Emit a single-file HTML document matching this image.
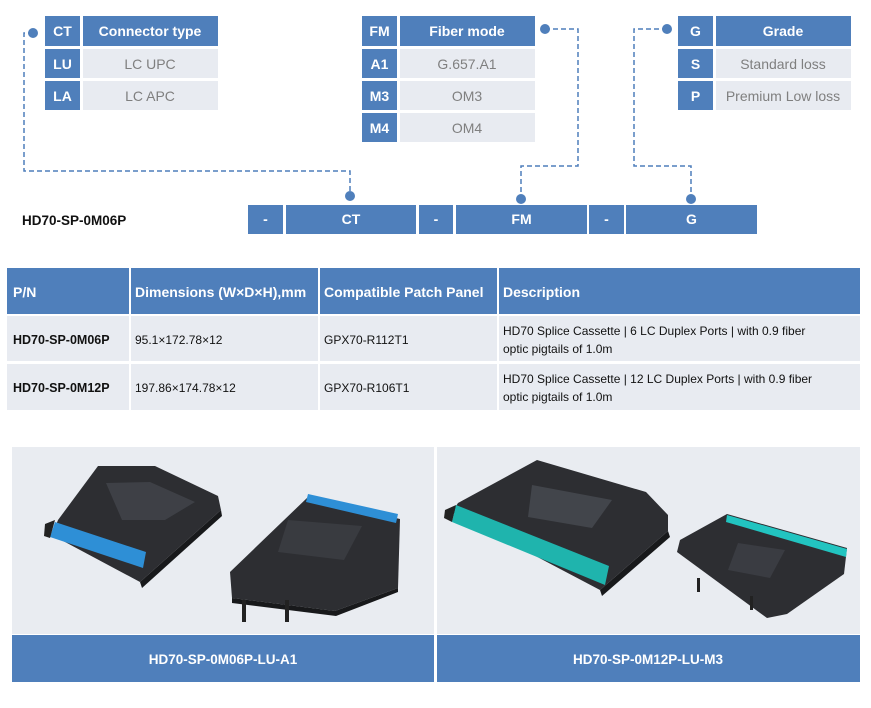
<!DOCTYPE html>
<html><head><meta charset="utf-8"><style>
html,body{margin:0;padding:0;background:#fff;width:871px;height:708px;overflow:hidden}
svg text{font-family:"Liberation Sans",sans-serif}
</style></head><body>
<svg width="871" height="708" viewBox="0 0 871 708" xmlns="http://www.w3.org/2000/svg">
<defs>
<style>
.b{fill:#4f7fbb}.g{fill:#e8ebf1}
.wh{fill:#fff;font-weight:bold;font-size:14px;text-anchor:middle}
.gt{fill:#7f7f7f;font-size:14px;text-anchor:middle}
.d{stroke:#4f7fbb;stroke-width:1.5;stroke-dasharray:5,3;fill:none}
.th{fill:#fff;font-weight:bold;font-size:14px}
.td{fill:#111;font-size:12px}
.tb{fill:#111;font-size:12.5px;font-weight:bold}
</style>
</defs>
<!-- CT table -->
<rect class="b" x="45" y="16" width="35" height="30"/><rect class="b" x="83" y="16" width="135" height="30"/>
<text class="wh" x="62.5" y="36">CT</text><text class="wh" x="150" y="36">Connector type</text>
<rect class="b" x="45" y="49" width="35" height="29"/><rect class="g" x="83" y="49" width="135" height="29"/>
<text class="wh" x="62.5" y="69">LU</text><text class="gt" x="150" y="69">LC UPC</text>
<rect class="b" x="45" y="81" width="35" height="29"/><rect class="g" x="83" y="81" width="135" height="29"/>
<text class="wh" x="62.5" y="101">LA</text><text class="gt" x="150" y="101">LC APC</text>
<!-- FM table -->
<rect class="b" x="362" y="16" width="35" height="30"/><rect class="b" x="400" y="16" width="135" height="30"/>
<text class="wh" x="379.5" y="36">FM</text><text class="wh" x="467" y="36">Fiber mode</text>
<rect class="b" x="362" y="49" width="35" height="29"/><rect class="g" x="400" y="49" width="135" height="29"/>
<text class="wh" x="379.5" y="69">A1</text><text class="gt" x="467" y="69">G.657.A1</text>
<rect class="b" x="362" y="81" width="35" height="29"/><rect class="g" x="400" y="81" width="135" height="29"/>
<text class="wh" x="379.5" y="101">M3</text><text class="gt" x="467" y="101">OM3</text>
<rect class="b" x="362" y="113" width="35" height="29"/><rect class="g" x="400" y="113" width="135" height="29"/>
<text class="wh" x="379.5" y="133">M4</text><text class="gt" x="467" y="133">OM4</text>
<!-- G table -->
<rect class="b" x="678" y="16" width="35" height="30"/><rect class="b" x="716" y="16" width="135" height="30"/>
<text class="wh" x="695.5" y="36">G</text><text class="wh" x="783" y="36">Grade</text>
<rect class="b" x="678" y="49" width="35" height="29"/><rect class="g" x="716" y="49" width="135" height="29"/>
<text class="wh" x="695.5" y="69">S</text><text class="gt" x="783" y="69">Standard loss</text>
<rect class="b" x="678" y="81" width="35" height="29"/><rect class="g" x="716" y="81" width="135" height="29"/>
<text class="wh" x="695.5" y="101">P</text><text class="gt" x="783" y="101">Premium Low loss</text>
<!-- connectors -->
<path class="d" d="M33 33 H24 V171 H350 V196"/>
<circle class="b" cx="33" cy="33" r="5"/><circle class="b" cx="350" cy="196" r="5"/>
<path class="d" d="M545 29 H578 V166 H521 V199"/>
<circle class="b" cx="545" cy="29" r="5"/><circle class="b" cx="521" cy="199" r="5"/>
<path class="d" d="M667 29 H634 V166 H691 V199"/>
<circle class="b" cx="667" cy="29" r="5"/><circle class="b" cx="691" cy="199" r="5"/>
<!-- code bar -->
<text x="22" y="225" style="font-weight:bold;font-size:13.5px;fill:#111">HD70-SP-0M06P</text>
<rect class="b" x="248" y="205" width="35" height="29"/><text class="wh" x="265.5" y="224">-</text>
<rect class="b" x="286" y="205" width="130" height="29"/><text class="wh" x="351" y="224">CT</text>
<rect class="b" x="419" y="205" width="34" height="29"/><text class="wh" x="436" y="224">-</text>
<rect class="b" x="456" y="205" width="131" height="29"/><text class="wh" x="521.5" y="224">FM</text>
<rect class="b" x="589" y="205" width="35" height="29"/><text class="wh" x="606.5" y="224">-</text>
<rect class="b" x="626" y="205" width="131" height="29"/><text class="wh" x="691.5" y="224">G</text>
<!-- spec table -->
<rect class="b" x="7" y="268" width="122" height="46"/><rect class="b" x="131" y="268" width="187" height="46"/>
<rect class="b" x="320" y="268" width="177" height="46"/><rect class="b" x="499" y="268" width="361" height="46"/>
<text class="th" x="13" y="297">P/N</text><text class="th" x="135" y="297">Dimensions (W×D×H),mm</text>
<text class="th" x="324" y="297">Compatible Patch Panel</text><text class="th" x="503" y="297">Description</text>
<rect class="g" x="7" y="316" width="122" height="45"/><rect class="g" x="131" y="316" width="187" height="45"/>
<rect class="g" x="320" y="316" width="177" height="45"/><rect class="g" x="499" y="316" width="361" height="45"/>
<text class="tb" x="13" y="344">HD70-SP-0M06P</text><text class="td" x="135" y="344">95.1×172.78×12</text>
<text class="td" x="324" y="344">GPX70-R112T1</text>
<text class="td" x="503" y="335">HD70 Splice Cassette | 6 LC Duplex Ports | with 0.9 fiber</text>
<text class="td" x="503" y="353">optic pigtails of 1.0m</text>
<rect class="g" x="7" y="364" width="122" height="46"/><rect class="g" x="131" y="364" width="187" height="46"/>
<rect class="g" x="320" y="364" width="177" height="46"/><rect class="g" x="499" y="364" width="361" height="46"/>
<text class="tb" x="13" y="392">HD70-SP-0M12P</text><text class="td" x="135" y="392">197.86×174.78×12</text>
<text class="td" x="324" y="392">GPX70-R106T1</text>
<text class="td" x="503" y="383">HD70 Splice Cassette | 12 LC Duplex Ports | with 0.9 fiber</text>
<text class="td" x="503" y="401">optic pigtails of 1.0m</text>
<!-- photo panels -->
<rect x="12" y="447" width="422" height="187" fill="#e9ecf1"/>
<rect x="437" y="447" width="423" height="187" fill="#e9ecf1"/>
<!-- product 1 -->
<polygon points="140,582 221,510 222,516 142,588" fill="#18191b"/>
<polygon points="98,466 155,466 218,496 221,510 140,582 52,535 58,520" fill="#2d2e32"/>
<polygon points="106,483 150,482 195,502 165,520 122,520" fill="#3e4046"/>
<polygon points="55,522 146,552 143,568 50,537" fill="#2e8fd6"/>
<polygon points="45,524 55,520 50,538 44,536" fill="#222"/>
<!-- product 2 -->
<polygon points="230,572 308,497 400,519 398,588 335,611 232,598" fill="#2d2e32"/>
<polygon points="232,598 335,611 398,588 398,592 336,616 232,603" fill="#18191b"/>
<polygon points="288,520 362,526 344,560 278,552" fill="#393b40"/>
<polygon points="308,494 398,514 396,523 306,502" fill="#2e8fd6"/>
<rect x="242" y="600" width="4" height="22" fill="#222"/><rect x="285" y="600" width="4" height="22" fill="#222"/>
<!-- product 3 -->
<polygon points="600,590 668,531 670,537 602,596" fill="#18191b"/>
<polygon points="537,460 646,492 668,515 668,531 600,590 452,512 458,503" fill="#2d2e32"/>
<polygon points="532,485 612,500 592,528 528,517" fill="#42454b"/>
<polygon points="456,505 609,566 605,585 452,522" fill="#1fb4ad"/>
<polygon points="445,510 456,505 452,522 444,518" fill="#222"/>
<!-- product 4 -->
<polygon points="727,514 847,548 844,574 787,614 767,618 677,552 680,540" fill="#2d2e32"/>
<polygon points="738,543 785,550 770,578 728,570" fill="#3a3c42"/>
<polygon points="727,515 847,549 846,557 726,522" fill="#22c4c0"/>
<rect x="697" y="578" width="3" height="14" fill="#222"/><rect x="750" y="596" width="3" height="14" fill="#222"/>
<!-- labels -->
<rect class="b" x="12" y="635" width="422" height="47"/><rect class="b" x="437" y="635" width="423" height="47"/>
<text class="wh" x="223" y="664" style="font-size:13.5px">HD70-SP-0M06P-LU-A1</text>
<text class="wh" x="648" y="664" style="font-size:13.5px">HD70-SP-0M12P-LU-M3</text>
</svg>
</body></html>
